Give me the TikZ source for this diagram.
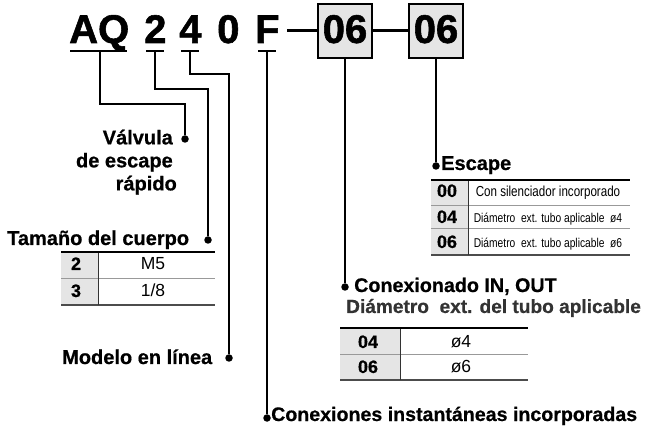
\documentclass[tikz,border=0pt]{standalone}
\usepackage{fontspec}
\setmainfont{Liberation Sans}[BoldFeatures={FakeBold=0.6}]
\newfontfamily\narrowfont[FakeStretch=0.8]{Liberation Sans}
\newfontfamily\heavyfont[FakeBold=1.4]{Liberation Sans Bold}
\definecolor{cellgray}{HTML}{E5E5E5}

\begin{document}
\begin{tikzpicture}[x=1pt, y=-1pt,
    big/.style={inner sep=0, font=\fontsize{40}{40}\selectfont\heavyfont},
    lbl/.style={inner sep=0, font=\fontsize{20}{23}\selectfont\bfseries},
    code/.style={inner sep=0, anchor=base, font=\fontsize{18}{18}\selectfont\bfseries},
    val/.style={inner sep=0, anchor=base, font=\fontsize{17.5}{18}\selectfont},
    note/.style={inner sep=0, anchor=base, font=\fontsize{14.5}{15}\selectfont\narrowfont},
    small/.style={inner sep=0, anchor=base, font=\fontsize{12.8}{13}\selectfont\narrowfont},
    codebox/.style={draw, line width=1.5pt, fill=cellgray, minimum width=54pt, minimum height=54pt, inner sep=0, text depth=4pt, font=\fontsize{40}{40}\selectfont\heavyfont},
    conn/.style={line width=2pt},
    uline/.style={line width=2.5pt},
    joinline/.style={line width=3pt},
    dot/.style={circle, fill, inner sep=0, minimum size=7.5pt},
    cell/.style={fill=cellgray},
    topline/.style={line width=2pt},
    rowline/.style={line width=0.8pt, black!40},
    botline/.style={line width=1.2pt, black!70},
    colline/.style={line width=0.8pt, black!80}]
        \useasboundingbox (0,0) rectangle (651,430);
        % model code
        \node[big, anchor=base west] (AQ) at (69,43) {AQ};
        \node[big, anchor=base west] (n2) at (144,43) {2};
        \node[big, anchor=base west] (n4) at (179,43) {4};
        \node[big, anchor=base west] (n0) at (217,43) {0};
        \node[big, anchor=base west] (F) at (255,43) {F};
        \node[codebox] (bx1) at (345,31) {06};
        \node[codebox] (bx2) at (436,31) {06};
        \draw[joinline] (bx1.west) -- ++(-30,0);
        \draw[joinline] (bx1.east) -- (bx2.west);
        \draw[uline] (70,51) -- (127,51);
        \draw[uline] (146,51) -- (164,51);
        \draw[uline] (181,51) -- (199,51);
        \draw[uline] (258,51) -- (276,51);
        \coordinate (uAQ) at (100,51);
        \coordinate (u2) at (155,51);
        \coordinate (u4) at (190,51);
        \coordinate (uF) at (267,51);
        % dots and connectors
        \node[dot] (dValv) at (185,139) {};
        \node[dot] (dTam) at (208,240) {};
        \node[dot] (dMod) at (229,358) {};
        \node[dot] (dCon) at (267,418) {};
        \node[dot] (dIO) at (345,287) {};
        \node[dot] (dEsc) at (436,166) {};
        \draw[conn] (uAQ) -- ++(0,53) -| (dValv);
        \draw[conn] (u2) -- ++(0,38) -| (dTam);
        \draw[conn] (u4) -- ++(0,23) -| (dMod);
        \draw[conn] (uF) -- (dCon);
        \draw[conn] (bx1.south) -- (dIO);
        \draw[conn] (bx2.south) -- (dEsc);
        % labels
        \node[lbl, align=right, anchor=north east] (valv) at (173,129.5) {Válvula\\de escape\\rápido\hspace*{-4pt}};
        \node[lbl, anchor=base west] (tam) at (7,245) {Tamaño del cuerpo};
        \node[lbl, anchor=base west] (mod) at (62,364) {Modelo en línea};
        \node[lbl, anchor=base west, font=\fontsize{19.6}{23}\selectfont\bfseries] (con) at (271,421) {Conexiones instantáneas incorporadas};
        \node[lbl, anchor=base west, font=\fontsize{19.7}{23}\selectfont\bfseries] (io) at (354,292) {Conexionado IN, OUT};
        \node[lbl, anchor=base west, black!80, font=\fontsize{19.1}{23}\selectfont\bfseries] (dia) at (346,313) {Diámetro~~ext. del tubo aplicable};
        \node[lbl, anchor=base west] (esc) at (441,170) {Escape};
        % body size table
        \fill[cell] (61,252) rectangle (98,305);
        \draw[rowline] (61,278) -- (215,278);
        \draw[botline] (61,305) -- (215,305);
        \draw[colline] (98,252) -- (98,305);
        \draw[topline] (61,252) -- (215,252);
        \node[code] (t2) at (76,270) {2};
        \node[val] (m5) at (153,270) {M5};
        \node[code] (t3) at (76,297) {3};
        \node[val] (m18) at (153,297) {1/8};
        % exhaust table
        \fill[cell] (431,180) rectangle (468,255);
        \foreach \y in {205,228} \draw[rowline] (431,\y) -- (630,\y);
        \draw[botline] (431,255) -- (630,255);
        \draw[colline] (468,180) -- (468,255);
        \draw[topline] (431,180) -- (630,180);
        \node[code] (e00) at (447,197) {00};
        \node[note] (s00) at (548,197) {Con silenciador incorporado};
        \node[code] (e04) at (447,223) {04};
        \node[small] (s04) at (548,223) {Diámetro~~ext. tubo aplicable~~ø4};
        \node[code] (e06) at (447,248) {06};
        \node[small] (s06) at (548,248) {Diámetro~~ext. tubo aplicable~~ø6};
        % port table
        \fill[cell] (340,328) rectangle (400,380);
        \draw[rowline] (340,354) -- (528,354);
        \draw[botline] (340,380) -- (528,380);
        \draw[colline] (400,328) -- (400,380);
        \draw[topline] (340,328) -- (528,328);
        \node[code] (p04) at (368,348) {04};
        \node[val] (o4) at (461,348) {ø4};
        \node[code] (p06) at (368,373) {06};
        \node[val] (o6) at (461,373) {ø6};
\end{tikzpicture}
\end{document}
